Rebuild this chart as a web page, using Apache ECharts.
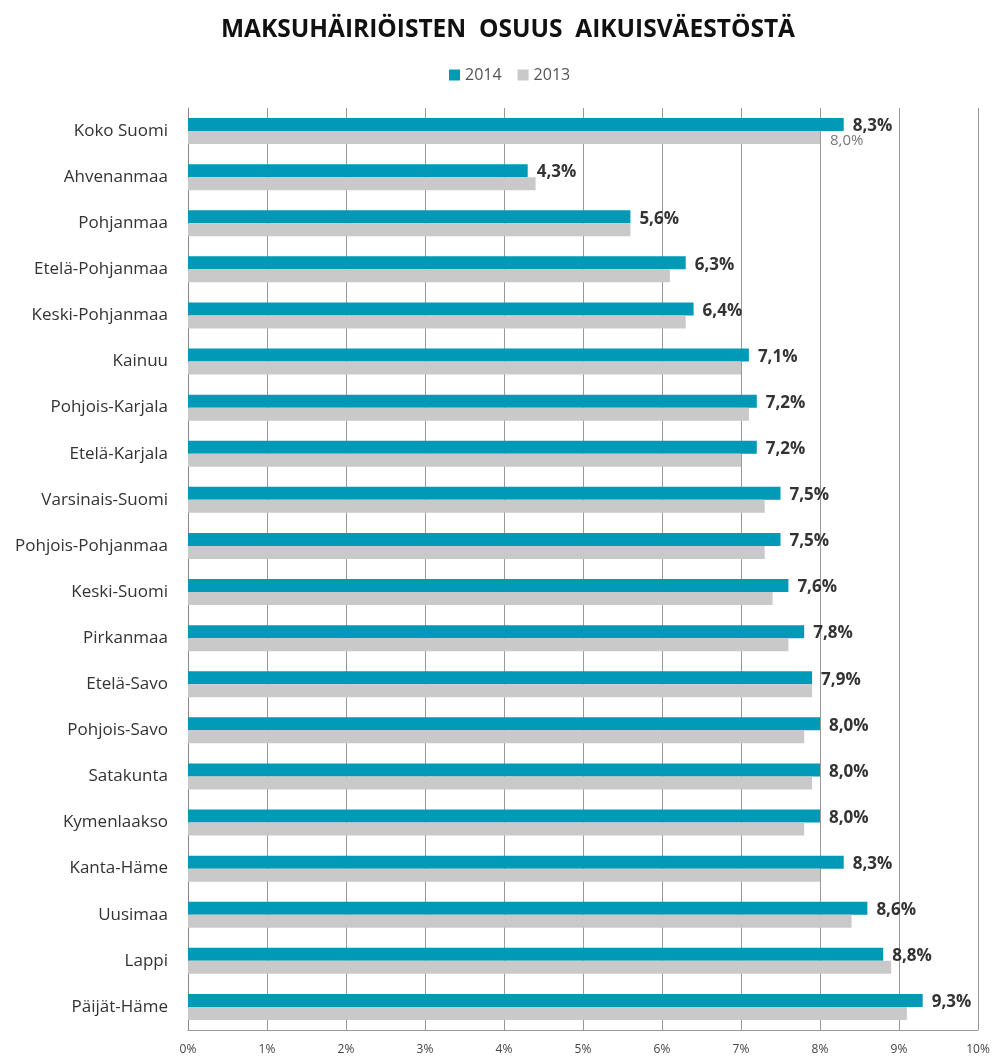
<!DOCTYPE html>
<html>
<head>
<meta charset="utf-8">
<script src="https://cdn.jsdelivr.net/npm/echarts@6/dist/echarts.min.js"></script>
<style>html,body{margin:0;padding:0;background:#fff;}#c{width:994px;height:1059px;}</style>
</head>
<body>
<div id="c"></div>
<script>
const titleText = 'MAKSUHÄIRIÖISTEN  OSUUS  AIKUISVÄESTÖSTÄ';
const categories = ['Koko Suomi','Ahvenanmaa','Pohjanmaa','Etelä-Pohjanmaa','Keski-Pohjanmaa','Kainuu','Pohjois-Karjala','Etelä-Karjala','Varsinais-Suomi','Pohjois-Pohjanmaa','Keski-Suomi','Pirkanmaa','Etelä-Savo','Pohjois-Savo','Satakunta','Kymenlaakso','Kanta-Häme','Uusimaa','Lappi','Päijät-Häme'];
const values2014 = [8.3,4.3,5.6,6.3,6.4,7.1,7.2,7.2,7.5,7.5,7.6,7.8,7.9,8.0,8.0,8.0,8.3,8.6,8.8,9.3];
const values2013 = [8.0,4.4,5.6,6.1,6.3,7.0,7.1,7.0,7.3,7.3,7.4,7.6,7.9,7.8,7.9,7.8,8.0,8.4,8.9,9.1];
const xTicks = [0,1,2,3,4,5,6,7,8,9,10];
const seriesNames = ['2014','2013'];

const FONT = 'Open Sans';
const fmt = v => v.toFixed(1).replace('.', ',') + '%';

const chart = echarts.init(document.getElementById('c'), null, {renderer:'canvas'});
chart.setOption({
  animation:false,
  backgroundColor:'#fff',
  title:{text:titleText,left:216,top:13,
    textStyle:{fontFamily:FONT,fontWeight:'bold',fontSize:24.5,color:'#111'}},
  legend:{data:seriesNames,top:62,left:444,itemWidth:11,itemHeight:11,itemGap:16,
    icon:'rect',textStyle:{fontFamily:FONT,fontSize:16,color:'#555'}},
  grid:{left:188,right:16,top:108,bottom:29,containLabel:false},
  xAxis:{type:'value',min:xTicks[0],max:xTicks[xTicks.length-1],interval:1,
    axisLine:{show:true,lineStyle:{color:'#999',width:1}},
    axisTick:{show:false},
    axisLabel:{fontFamily:FONT,fontSize:12,color:'#444',margin:14,formatter:v=>v+'%'},
    splitLine:{show:true,lineStyle:{color:'#999',width:1}}},
  yAxis:{type:'category',data:categories,inverse:true,
    axisLine:{show:true,lineStyle:{color:'#888',width:1}},
    axisTick:{show:false},
    axisLabel:{fontFamily:FONT,fontSize:17,color:'#333',margin:20}},
  series:[
    {name:seriesNames[0],type:'bar',data:values2014,barWidth:13,barGap:'0%',
     itemStyle:{color:'#0099b6'},
     label:{show:true,position:'right',distance:9,offset:[0,2],formatter:p=>fmt(p.value),
       fontFamily:FONT,fontWeight:'bold',fontSize:17,color:'#333'}},
    {name:seriesNames[1],type:'bar',data:values2013.map((v,i)=>i===0?{value:v,label:{show:true}}:v),barWidth:13,
     itemStyle:{color:'#c9c9c9'},
     label:{show:false,position:'right',distance:10,offset:[0,3],formatter:p=>fmt(p.value),
       fontFamily:FONT,fontSize:15,color:'#777'}}
  ]
});
</script>
</body>
</html>
